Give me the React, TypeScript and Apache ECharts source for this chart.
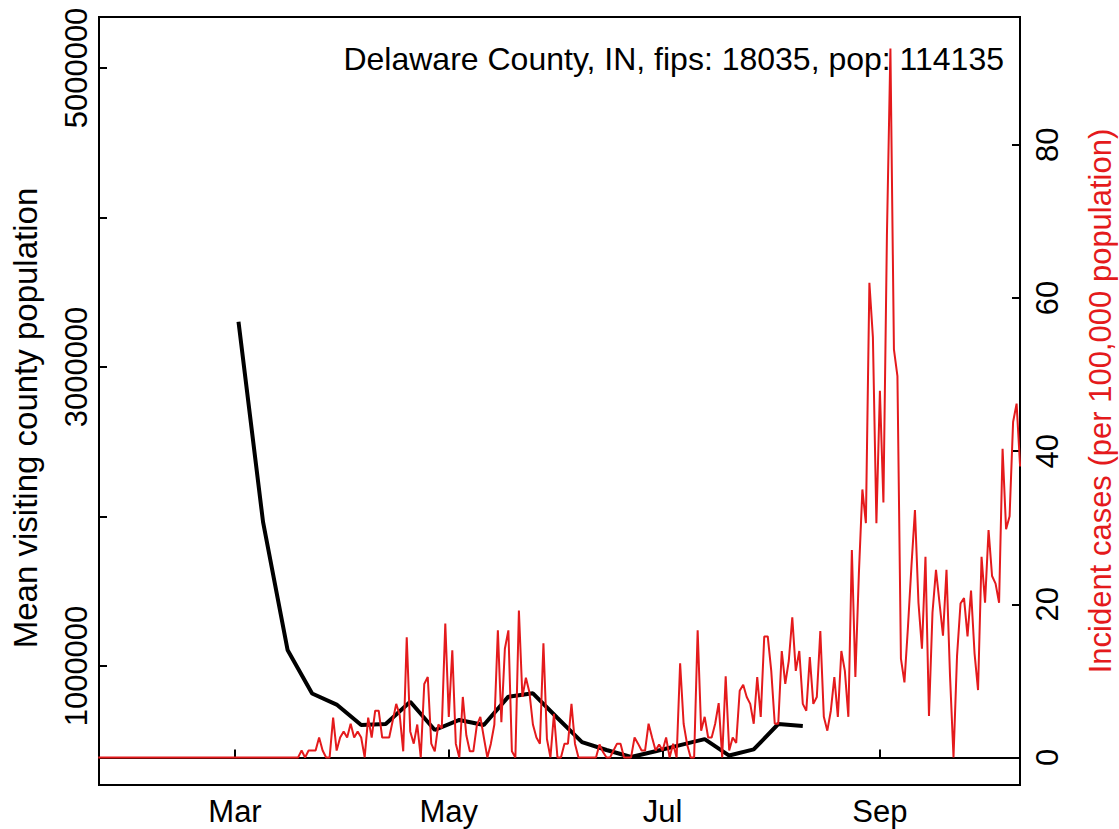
import React, { useEffect, useRef } from "react";
import * as echarts from "echarts";

const FONT = '"Liberation Sans", Arial, Helvetica, sans-serif';
const DAY = 86400000;

// Daily incident cases per 100,000, starting 2020-01-22
const incidentStart = "2020-01-22";
const incidentCases = [
  0, 0, 0, 0, 0, 0, 0, 0, 0, 0,
  0, 0, 0, 0, 0, 0, 0, 0, 0, 0,
  0, 0, 0, 0, 0, 0, 0, 0, 0, 0,
  0, 0, 0, 0, 0, 0, 0, 0, 0, 0,
  0, 0, 0, 0, 0, 0, 0, 0, 0, 0,
  0, 0, 0, 0, 0, 0, 0,
  // from 2020-03-19
  0, 0.9, 0, 0.9, 0.9, 0.9, 2.6, 0.9, 0, 0,
  5.2, 0.9, 2.6, 3.4, 2.6, 4.4, 2.6, 3.4, 2.6, 0,
  5.2, 2.6, 6.1, 6.1, 2.6, 2.6, 2.6, 4.8, 7.0, 5.5,
  0.8, 15.7, 3.4, 1.8, 4.3, 0, 9.6, 10.5, 1.8, 0.8,
  4.3, 3.8, 17.5, 5.3, 14.0, 1.8, 0, 7.9, 2.9, 0.8,
  0.8, 4.2, 5.3, 2.6, 0, 1.8, 4.3, 16.6, 4.6, 14.2,
  16.6, 0.8, 0, 19.2, 7.9, 10.4, 8.5, 4.3, 2.6, 1.8,
  14.9, 2.4, 0, 5.7, 0, 0, 1.8, 1.8, 7.0, 1.8,
  0, 0, 0, 0, 0, 0, 1.7, 0.7, 0, 0,
  0.9, 1.8, 1.8, 0, 0, 0, 2.6, 1.8, 0.9, 0.9,
  4.4, 2.6, 0.9, 1.7, 0.9, 2.6, 0, 1.8, 0, 12.3,
  4.4, 1.7, 0, 0, 16.6, 3.5, 5.3, 2.6, 2.6, 4.4,
  7.1, 0, 10.6, 0.9, 2.6, 1.9, 8.7, 9.5, 7.9, 7.0,
  4.4, 10.5, 5.3, 15.8, 15.8, 11.3, 4.4, 4.4, 13.9, 9.6,
  12.6, 18.3, 11.3, 13.9, 7.0, 6.1, 13.1, 7.0, 7.9, 16.5,
  5.3, 3.5, 6.1, 10.5, 5.3, 13.9, 11.3, 5.3, 27.1, 10.5,
  24.0, 35.0, 30.6, 62.0, 54.9, 30.6, 47.9, 33.3, 68.1, 92.6,
  53.3, 49.8, 12.9, 9.8, 17.0, 25.0, 32.3, 20.2, 14.2, 26.2,
  5.4, 18.9, 24.5, 20.2, 15.9, 24.5, 10.7, 0, 13.2, 20.1,
  20.8, 15.8, 21.8, 13.6, 8.8, 26.2, 20.2, 29.7, 23.7, 22.7,
  20.2, 40.3, 29.8, 31.5, 43.8, 46.2, 38.0,
];

// Weekly mean visiting county population, starting 2020-03-02
const visitStart = "2020-03-02";
const visitPopulation = [
  3302000, 1964000, 1107000, 816000, 742000, 605000, 612000, 761000,
  572000, 639000, 605000, 795000, 817000, 652000, 491000, 438000,
  391000, 430000, 471000, 511000, 401000, 442000, 612000, 598000,
];

const monthTickDates = ["2020-03-01", "2020-05-01", "2020-07-01", "2020-09-01"];
const monthTickLabels = ["Mar", "May", "Jul", "Sep"];
const leftTickValues = [1000000, 2000000, 3000000, 4000000, 5000000];
const leftLabelValues = [1000000, 3000000, 5000000];
const rightTickValues = [0, 20, 40, 60, 80];
const annotation = "Delaware County, IN, fips: 18035, pop: 114135";
const leftTitle = "Mean visiting county population";
const rightTitle = "Incident cases (per 100,000 population)";

export default function App() {
  const ref = useRef<HTMLDivElement>(null);

  useEffect(() => {
    if (!ref.current) return;
    const chart = echarts.init(ref.current, undefined, { renderer: "svg" });

    const s0 = Date.parse(incidentStart);
    const redData = incidentCases.map((v, i) => [s0 + i * DAY, v]);
    const v0 = Date.parse(visitStart);
    const blackData = visitPopulation.map((v, i) => [v0 + i * 7 * DAY, v]);
    const monthTicks = monthTickDates.map((d) => Date.parse(d));
    const mar1 = Date.parse("2020-03-01");

    const tickStyle = { color: "#000", width: 2 };
    const labelBase = { color: "#000", fontSize: 31, fontFamily: FONT };

    chart.setOption({
      animation: false,
      backgroundColor: "#fff",
      grid: {
        left: 99,
        right: 99,
        top: 17,
        bottom: 44,
        show: true,
        borderColor: "#000",
        borderWidth: 2,
        containLabel: false,
        outerBoundsMode: "none",
      },
      xAxis: {
        type: "value",
        min: mar1 - 38.8 * DAY,
        max: mar1 + 223.97 * DAY,
        axisLine: { show: true, lineStyle: tickStyle },
        axisTick: {
          show: true,
          inside: true,
          length: 8,
          lineStyle: tickStyle,
          customValues: monthTicks,
        },
        axisLabel: {
          ...labelBase,
          customValues: monthTicks,
          margin: 11,
          formatter: (v: number) => {
            const k = monthTicks.indexOf(v);
            return k >= 0 ? monthTickLabels[k] : "";
          },
        },
        splitLine: { show: false },
      },
      yAxis: [
        {
          type: "value",
          position: "left",
          min: 204000,
          max: 5341000,
          axisLine: { show: true, lineStyle: tickStyle },
          axisTick: {
            show: true,
            inside: true,
            length: 8,
            lineStyle: tickStyle,
            customValues: leftTickValues,
          },
          axisLabel: {
            ...labelBase,
            customValues: leftLabelValues,
            rotate: 90,
            margin: 7,
            formatter: (v: number) => String(v),
          },
          splitLine: { show: false },
        },
        {
          type: "value",
          position: "right",
          min: -3.6,
          max: 96.7,
          axisLine: { show: true, lineStyle: tickStyle },
          axisTick: {
            show: true,
            inside: true,
            length: 8,
            lineStyle: tickStyle,
            customValues: rightTickValues,
          },
          axisLabel: {
            ...labelBase,
            customValues: rightTickValues,
            rotate: 90,
            margin: 12,
            formatter: (v: number) => String(v),
          },
          splitLine: { show: false },
          name: rightTitle,
          nameLocation: "middle",
          nameRotate: 90,
          nameGap: 65,
          nameTextStyle: { color: "#E41A1C", fontSize: 31, fontFamily: FONT },
        },
      ],
      graphic: [
        {
          type: "text",
          x: 1004,
          y: 59,
          z: 0,
          style: {
            text: annotation,
            fill: "#000",
            font: `32px ${FONT}`,
            align: "right",
            verticalAlign: "middle",
          },
        },
        {
          type: "text",
          x: 25,
          y: 418,
          rotation: Math.PI / 2,
          style: {
            text: leftTitle,
            fill: "#000",
            font: `33px ${FONT}`,
            align: "center",
            verticalAlign: "middle",
          },
        },
      ],
      series: [
        {
          type: "line",
          name: "Mean visiting county population",
          yAxisIndex: 0,
          data: blackData,
          symbol: "none",
          lineStyle: { color: "#000", width: 4 },
          z: 3,
        },
        {
          type: "line",
          name: "Incident cases",
          yAxisIndex: 1,
          data: redData,
          symbol: "none",
          lineStyle: { color: "#E41A1C", width: 2 },
          z: 4,
        },
      ],
    });

    return () => chart.dispose();
  }, []);

  return (
    <div
      ref={ref}
      style={{ position: "fixed", left: 0, top: 0, width: 1119, height: 829, background: "#fff" }}
    />
  );
}
